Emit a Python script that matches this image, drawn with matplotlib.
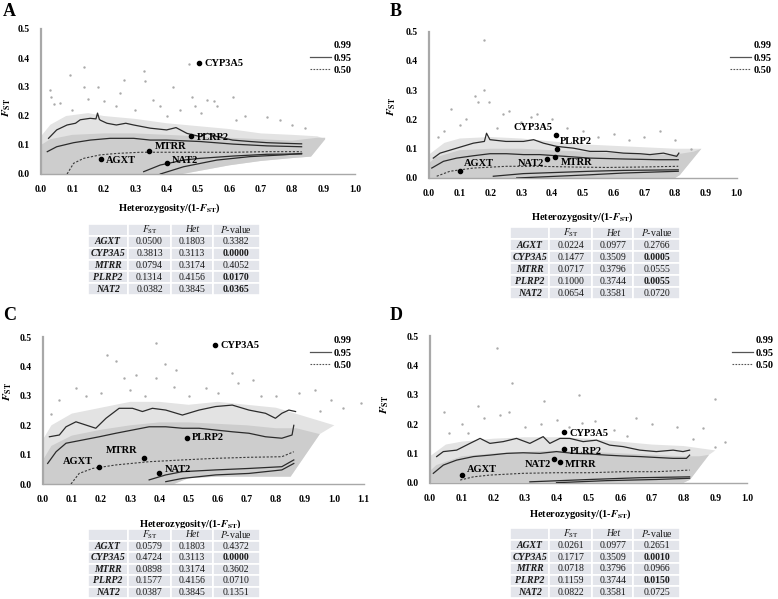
#!/usr/bin/env python3
"""FST vs heterozygosity outlier plots (panels A-D) with gene tables."""

import matplotlib

matplotlib.use("Agg")
import matplotlib.pyplot as plt
from matplotlib.lines import Line2D
import numpy as np

plt.rcParams["font.family"] = ["Liberation Serif", "DejaVu Serif"]
plt.rcParams["mathtext.fontset"] = "stix"

# ---- table values -------------------------------------------------------
GENES = ["AGXT", "CYP3A5", "MTRR", "PLRP2", "NAT2"]
HET_AC = [0.1803, 0.3113, 0.3174, 0.4156, 0.3845]
HET_BD = [0.0977, 0.3509, 0.3796, 0.3744, 0.3581]
FST_A = [0.0500, 0.3813, 0.0794, 0.1314, 0.0382]
P_A = [0.3382, 0.0000, 0.4052, 0.0170, 0.0365]
FST_B = [0.0224, 0.1477, 0.0717, 0.1000, 0.0654]
P_B = [0.2766, 0.0005, 0.0555, 0.0055, 0.0720]
FST_C = [0.0579, 0.4724, 0.0898, 0.1577, 0.0387]
P_C = [0.4372, 0.0000, 0.3602, 0.0710, 0.1351]
FST_D = [0.0261, 0.1717, 0.0718, 0.1159, 0.0822]
P_D = [0.2651, 0.0010, 0.0966, 0.0150, 0.0725]

# ---- panel A quantile curves ------------------------------------------
A_U99_X = [0.024, 0.05, 0.083, 0.11, 0.125, 0.157, 0.175, 0.18, 0.186, 0.19, 0.21, 0.24, 0.27, 0.295,
           0.348, 0.40, 0.43, 0.465, 0.507, 0.53, 0.56, 0.61, 0.666, 0.72, 0.77, 0.83]
A_U99_Y = [0.123, 0.152, 0.169, 0.175, 0.187, 0.192, 0.19, 0.21, 0.188, 0.185, 0.175, 0.169, 0.175, 0.169,
           0.158, 0.152, 0.16, 0.14, 0.129, 0.14, 0.129, 0.117, 0.112, 0.108, 0.106, 0.104]
A_U95_X = [0.02, 0.05, 0.104, 0.157, 0.22, 0.295, 0.348, 0.40, 0.507, 0.613, 0.72, 0.83]
A_U95_Y = [0.077, 0.094, 0.108, 0.117, 0.123, 0.123, 0.117, 0.117, 0.112, 0.103, 0.097, 0.094]
A_M50_X = [0.083, 0.104, 0.136, 0.189, 0.242, 0.316, 0.40, 0.507, 0.613, 0.72, 0.83]
A_M50_Y = [0.0, 0.037, 0.054, 0.066, 0.071, 0.075, 0.075, 0.075, 0.075, 0.077, 0.077]
A_L95_X = [0.327, 0.38, 0.454, 0.507, 0.613, 0.72, 0.83]
A_L95_Y = [0.008, 0.031, 0.048, 0.054, 0.062, 0.068, 0.069]
A_L99_X = [0.38, 0.454, 0.56, 0.666, 0.772, 0.83]
A_L99_Y = [0.0, 0.025, 0.048, 0.060, 0.066, 0.071]

# ---- panel B quantile curves ------------------------------------------
B_U99_X = [0.014, 0.036, 0.09, 0.144, 0.18, 0.187, 0.198, 0.25, 0.307, 0.34, 0.372, 0.415, 0.469,
           0.523, 0.577, 0.632, 0.686, 0.718, 0.762, 0.805, 0.812]
B_U99_Y = [0.068, 0.085, 0.102, 0.119, 0.125, 0.153, 0.131, 0.125, 0.125, 0.131, 0.119, 0.108, 0.102,
           0.091, 0.091, 0.085, 0.083, 0.08, 0.085, 0.074, 0.085]
B_U95_X = [0.009, 0.047, 0.09, 0.144, 0.198, 0.252, 0.307, 0.36, 0.415, 0.469, 0.523, 0.632, 0.74, 0.81]
B_U95_Y = [0.034, 0.057, 0.068, 0.076, 0.083, 0.083, 0.08, 0.08, 0.076, 0.072, 0.068, 0.065, 0.0625, 0.0625]
B_M50_X = [0.025, 0.068, 0.144, 0.252, 0.36, 0.469, 0.577, 0.686, 0.81]
B_M50_Y = [0.006, 0.023, 0.034, 0.04, 0.04, 0.0375, 0.036, 0.0375, 0.04]
B_L95_X = [0.209, 0.307, 0.415, 0.523, 0.632, 0.81]
B_L95_Y = [0.006, 0.015, 0.019, 0.023, 0.026, 0.028]
B_L99_X = [0.285, 0.415, 0.523, 0.632, 0.81]
B_L99_Y = [0.0, 0.006, 0.011, 0.017, 0.023]

# ---- panel C quantile curves ------------------------------------------
C_U99_X = [0.023, 0.057, 0.08, 0.114, 0.148, 0.182, 0.217, 0.262, 0.308, 0.342, 0.376, 0.422, 0.479,
           0.536, 0.593, 0.65, 0.707, 0.764, 0.798, 0.82, 0.844, 0.867]
C_U99_Y = [0.161, 0.167, 0.195, 0.212, 0.201, 0.19, 0.224, 0.258, 0.258, 0.247, 0.258, 0.252, 0.235,
           0.252, 0.264, 0.269, 0.252, 0.241, 0.224, 0.241, 0.252, 0.247]
C_U95_X = [0.017, 0.046, 0.08, 0.137, 0.194, 0.251, 0.308, 0.365, 0.422, 0.479, 0.536, 0.593, 0.65,
           0.707, 0.764, 0.82, 0.855, 0.861]
C_U95_Y = [0.07, 0.11, 0.139, 0.15, 0.161, 0.173, 0.184, 0.195, 0.195, 0.19, 0.19, 0.184, 0.178,
           0.173, 0.161, 0.156, 0.167, 0.2]
C_M50_X = [0.097, 0.125, 0.171, 0.251, 0.365, 0.479, 0.593, 0.707, 0.82, 0.861]
C_M50_Y = [0.0, 0.036, 0.053, 0.065, 0.076, 0.082, 0.0875, 0.091, 0.093, 0.11]
C_L95_X = [0.365, 0.422, 0.479, 0.593, 0.707, 0.82, 0.861]
C_L95_Y = [0.014, 0.031, 0.042, 0.048, 0.053, 0.059, 0.082]
C_L99_X = [0.422, 0.479, 0.593, 0.707, 0.82, 0.861]
C_L99_Y = [0.008, 0.019, 0.031, 0.036, 0.048, 0.07]

# ---- panel D quantile curves ------------------------------------------
D_U99_X = [0.021, 0.042, 0.084, 0.126, 0.158, 0.189, 0.231, 0.273, 0.315, 0.357, 0.378, 0.41, 0.441,
           0.483, 0.525, 0.567, 0.609, 0.662, 0.714, 0.767, 0.798, 0.819]
D_U99_Y = [0.089, 0.106, 0.111, 0.134, 0.151, 0.134, 0.14, 0.151, 0.134, 0.157, 0.134, 0.151, 0.151,
           0.14, 0.145, 0.128, 0.123, 0.111, 0.106, 0.111, 0.106, 0.111]
D_U95_X = [0.0105, 0.042, 0.084, 0.137, 0.189, 0.242, 0.294, 0.347, 0.399, 0.452, 0.504, 0.557, 0.609,
           0.662, 0.714, 0.767, 0.809, 0.819]
D_U95_Y = [0.032, 0.06, 0.077, 0.089, 0.094, 0.10, 0.102, 0.10, 0.106, 0.10, 0.098, 0.094, 0.091,
           0.089, 0.086, 0.083, 0.083, 0.094]
D_M50_X = [0.095, 0.137, 0.189, 0.294, 0.399, 0.504, 0.609, 0.714, 0.819]
D_M50_Y = [0.009, 0.02, 0.026, 0.032, 0.034, 0.034, 0.0375, 0.0375, 0.043]
D_L95_X = [0.315, 0.504, 0.662, 0.819]
D_L95_Y = [0.003, 0.011, 0.017, 0.020]
D_L99_X = [0.399, 0.557, 0.714, 0.819]
D_L99_Y = [0.0, 0.007, 0.011, 0.015]

# ---- SNP cloud outlines (dense core / sparse halo) ---------------------
A_CORE_TOP_X = [0.0, 0.03, 0.1, 0.2, 0.3, 0.4, 0.5, 0.6, 0.7, 0.8, 0.88, 0.905]
A_CORE_TOP_Y = [0.10, 0.12, 0.135, 0.14, 0.14, 0.135, 0.13, 0.125, 0.12, 0.115, 0.125, 0.125]
A_CORE_BOT_X = [0.905, 0.86, 0.8, 0.7, 0.6, 0.5, 0.45, 0.0]
A_CORE_BOT_Y = [0.12, 0.06, 0.055, 0.045, 0.03, 0.01, 0.0, 0.0]
A_HALO_TOP_X = [0.0, 0.03, 0.08, 0.15, 0.2, 0.3, 0.4, 0.5, 0.6, 0.7, 0.8, 0.88]
A_HALO_TOP_Y = [0.13, 0.17, 0.2, 0.21, 0.2, 0.19, 0.175, 0.165, 0.155, 0.14, 0.135, 0.13]

B_CORE_TOP_X = [0.0, 0.02, 0.1, 0.2, 0.3, 0.4, 0.5, 0.6, 0.7, 0.8, 0.86, 0.885]
B_CORE_TOP_Y = [0.05, 0.07, 0.095, 0.1, 0.1, 0.095, 0.09, 0.085, 0.08, 0.08, 0.09, 0.1]
B_CORE_BOT_X = [0.885, 0.815, 0.8, 0.0]
B_CORE_BOT_Y = [0.1, 0.01, 0.0, 0.0]
B_HALO_TOP_X = [0.0, 0.05, 0.1, 0.2, 0.3, 0.4, 0.5, 0.6, 0.7, 0.8, 0.88]
B_HALO_TOP_Y = [0.08, 0.12, 0.135, 0.14, 0.135, 0.125, 0.115, 0.11, 0.105, 0.1, 0.1]

C_CORE_TOP_X = [0.0, 0.03, 0.1, 0.2, 0.3, 0.4, 0.5, 0.6, 0.7, 0.8, 0.87, 0.95]
C_CORE_TOP_Y = [0.08, 0.13, 0.165, 0.185, 0.2, 0.21, 0.21, 0.205, 0.2, 0.19, 0.19, 0.17]
C_CORE_BOT_X = [0.95, 0.85, 0.6, 0.5, 0.45, 0.0]
C_CORE_BOT_Y = [0.17, 0.025, 0.025, 0.02, 0.0, 0.0]
C_HALO_TOP_X = [0.0, 0.03, 0.1, 0.2, 0.3, 0.4, 0.5, 0.6, 0.7, 0.8, 0.9, 1.0]
C_HALO_TOP_Y = [0.15, 0.2, 0.24, 0.26, 0.28, 0.28, 0.27, 0.28, 0.27, 0.26, 0.23, 0.2]

D_CORE_TOP_X = [0.0, 0.02, 0.1, 0.2, 0.3, 0.4, 0.5, 0.6, 0.7, 0.8, 0.85, 0.88]
D_CORE_TOP_Y = [0.04, 0.06, 0.09, 0.1, 0.105, 0.11, 0.105, 0.1, 0.095, 0.09, 0.09, 0.095]
D_CORE_BOT_X = [0.88, 0.82, 0.8, 0.0]
D_CORE_BOT_Y = [0.095, 0.01, 0.0, 0.0]
D_HALO_TOP_X = [0.0, 0.05, 0.1, 0.2, 0.3, 0.4, 0.5, 0.6, 0.7, 0.8, 0.9]
D_HALO_TOP_Y = [0.09, 0.13, 0.14, 0.15, 0.155, 0.155, 0.15, 0.14, 0.13, 0.125, 0.11]

# ---- scattered outlying SNPs ------------------------------------------
A_OUT_X = [0.03, 0.033, 0.04, 0.093, 0.136, 0.136, 0.18, 0.06, 0.24, 0.263, 0.327, 0.332, 0.358, 0.38,
           0.42, 0.443, 0.48, 0.49, 0.51, 0.528, 0.55, 0.56, 0.62, 0.72, 0.76, 0.80, 0.61, 0.2, 0.3,
           0.1, 0.47, 0.25, 0.15, 0.4, 0.65, 0.84]
A_OUT_Y = [0.29, 0.265, 0.24, 0.34, 0.37, 0.30, 0.30, 0.245, 0.233, 0.325, 0.354, 0.32, 0.256, 0.233,
           0.30, 0.221, 0.267, 0.233, 0.21, 0.256, 0.25, 0.233, 0.187, 0.198, 0.187, 0.17, 0.267, 0.25,
           0.22, 0.22, 0.38, 0.28, 0.26, 0.2, 0.2, 0.16]
B_OUT_X = [0.18, 0.178, 0.15, 0.16, 0.195, 0.07, 0.12, 0.24, 0.26, 0.35, 0.33, 0.30, 0.40, 0.10, 0.05,
           0.6, 0.75, 0.65, 0.85, 0.22, 0.45, 0.5, 0.7, 0.8, 0.03, 0.37, 0.55]
B_OUT_Y = [0.47, 0.30, 0.28, 0.26, 0.26, 0.235, 0.20, 0.22, 0.23, 0.22, 0.21, 0.19, 0.20, 0.18, 0.16,
           0.15, 0.16, 0.13, 0.10, 0.17, 0.17, 0.16, 0.14, 0.13, 0.14, 0.18, 0.14]
C_OUT_X = [0.387, 0.25, 0.22, 0.456, 0.32, 0.387, 0.65, 0.56, 0.67, 0.72, 0.878, 0.935, 0.99, 1.09,
           1.03, 0.057, 0.114, 0.2, 0.3, 0.45, 0.5, 0.6, 0.8, 0.95, 0.03, 0.15, 0.35, 0.75, 0.42, 0.28]
C_OUT_Y = [0.48, 0.42, 0.44, 0.39, 0.37, 0.36, 0.38, 0.326, 0.343, 0.355, 0.31, 0.32, 0.286, 0.275,
           0.26, 0.286, 0.326, 0.31, 0.32, 0.33, 0.3, 0.31, 0.3, 0.25, 0.24, 0.3, 0.3, 0.3, 0.41, 0.36]
D_OUT_X = [0.21, 0.26, 0.15, 0.36, 0.47, 0.9, 0.045, 0.25, 0.22, 0.4, 0.52, 0.48, 0.65, 0.7, 0.86,
           0.93, 0.1, 0.17, 0.3, 0.78, 0.58, 0.35, 0.06, 0.12, 0.44, 0.62, 0.83, 0.9]
D_OUT_Y = [0.46, 0.34, 0.26, 0.28, 0.30, 0.285, 0.24, 0.24, 0.23, 0.215, 0.21, 0.205, 0.22, 0.2, 0.185,
           0.14, 0.2, 0.22, 0.19, 0.19, 0.18, 0.2, 0.17, 0.17, 0.19, 0.16, 0.15, 0.12]

# label offsets (points) and alignment per gene, per panel
A_LBL = [(4, -1, "left"), (4, 0, "left"), (4, 3, "left"), (4, -1, "left"), (4, 2, "left")]
B_LBL = [(3, 6, "left"), (-2, 5, "right"), (4, -4, "left"), (2, 5, "left"), (-2, -3, "right")]
C_LBL = [(-4, 4, "right"), (4, 0, "left"), (-5, 5, "right"), (4, 0, "left"), (4, 2, "left")]
D_LBL = [(4, 4, "left"), (4, -1, "left"), (4, -2, "left"), (4, -2, "left"), (-2, -4, "right")]

FIG_W, FIG_H = 778, 599
LINE_C = "#2b2b2b"
CORE_C = "#cdcdcd"
HALO_C = "#e3e3e3"
DOT_C = "#aaaaaa"
COL_W = [0.23, 0.255, 0.24, 0.275]


def fx(px):
    return px / FIG_W


def fy(py):
    return 1 - py / FIG_H


def draw_panel(fig, rect, letter, letter_xy, xmax, curves, core, halo, out, fst, het, lbl,
               leg_xy, ylab_xy, xlab_xy):
    ax = fig.add_axes(rect)
    ctx, cty, cbx, cby = core
    hx, hy = halo
    # sparse halo then dense core
    ax.fill(list(hx) + list(cbx), list(hy) + list(cby), color=HALO_C, lw=0, zorder=1)
    ax.fill(list(ctx) + list(cbx), list(cty) + list(cby), color=CORE_C, lw=0, zorder=2)
    ax.scatter(out[0], out[1], s=3, color=DOT_C, lw=0, zorder=2)
    u99, u95, m50, l95, l99 = curves
    ax.plot(*u99, color=LINE_C, lw=0.9, zorder=3)
    ax.plot(*u95, color=LINE_C, lw=0.9, zorder=3)
    ax.plot(*m50, color="#3a3a3a", lw=0.8, ls=(0, (2, 1.5)), zorder=3)
    ax.plot(*l95, color=LINE_C, lw=0.9, zorder=3)
    ax.plot(*l99, color=LINE_C, lw=0.9, zorder=3)

    gx = np.array(het) / (1 - np.array(fst))
    ax.scatter(gx, fst, s=9, color="black", zorder=4)
    for g, x, y, (dx, dy, ha) in zip(GENES, gx, fst, lbl):
        ax.annotate(g, (x, y), xytext=(dx, dy), textcoords="offset points", ha=ha, va="center",
                    fontsize=7.5, fontweight="bold", zorder=5)

    ax.set_xlim(0, xmax)
    ax.set_ylim(0, 0.5)
    ax.set_xticks(np.round(np.arange(0, xmax + 0.001, 0.1), 1))
    ax.set_yticks([0.0, 0.1, 0.2, 0.3, 0.4, 0.5])
    ax.xaxis.set_major_formatter(matplotlib.ticker.FormatStrFormatter("%.1f"))
    ax.yaxis.set_major_formatter(matplotlib.ticker.FormatStrFormatter("%.1f"))
    ax.tick_params(length=0, labelsize=7, pad=8)
    for t in ax.get_xticklabels() + ax.get_yticklabels():
        t.set_fontweight("bold")
    for s in ("top", "right"):
        ax.spines[s].set_visible(False)
    ax.spines["left"].set_color("#a8a8a8")
    ax.spines["left"].set_linewidth(1.6)
    ax.spines["bottom"].set_color("#a8a8a8")
    ax.spines["bottom"].set_linewidth(1.0)
    ax.set_xlabel(r"Heterozygosity/(1-$\mathbfit{F}_{\mathbf{ST}}$)", fontsize=7.5, fontweight="bold")
    ax.xaxis.set_label_coords(*xlab_xy)
    ax.set_ylabel(r"$\mathbfit{F}_{\mathbf{ST}}$", fontsize=8)
    ax.yaxis.set_label_coords(*ylab_xy)

    handles = [Line2D([], [], color="none"),
               Line2D([], [], color="#555555", lw=0.9),
               Line2D([], [], color="#555555", lw=0.8, ls=(0, (1.5, 1.2)))]
    fig.legend(handles, ["0.99", "0.95", "0.50"], loc="upper left", bbox_to_anchor=leg_xy,
               bbox_transform=fig.transFigure, frameon=False, borderpad=0, borderaxespad=0,
               handlelength=2.0, handletextpad=0.3, labelspacing=0.28,
               prop={"weight": "bold", "size": 7.5})
    fig.text(letter_xy[0], letter_xy[1], letter, fontsize=13, fontweight="bold", va="center")
    return ax


def draw_table(fig, rect, fst, het, pval):
    tax = fig.add_axes(rect)
    tax.axis("off")
    rows = [["", r"$\mathit{F}_{\mathrm{ST}}$", "Het", r"$\mathit{P}$-value"]]
    for g, f, h, p in zip(GENES, fst, het, pval):
        rows.append([g, f"{f:.4f}", f"{h:.4f}", f"{p:.4f}"])
    tb = tax.table(cellText=rows, bbox=[0, 0, 1, 1], colWidths=COL_W, cellLoc="center")
    tb.auto_set_font_size(False)
    for (r, c), cell in tb.get_celld().items():
        cell.set_facecolor("#e3e5eb")
        cell.set_edgecolor("white")
        cell.set_linewidth(1.2)
        t = cell.get_text()
        t.set_fontsize(7)
        t.set_color("#1a1a1a")
        if r == 0 and c == 2:
            t.set_fontstyle("italic")
        if c == 0 and r > 0:
            t.set_fontweight("bold")
            t.set_fontstyle("italic")
            cell._loc = "right"
        if c == 3 and r > 0 and pval[r - 1] < 0.05:
            t.set_fontweight("bold")


def main():
    fig = plt.figure(figsize=(FIG_W / 100, FIG_H / 100), dpi=100)

    draw_panel(fig, [fx(41), fy(174), fx(314), 145 / FIG_H], "A", (fx(3), fy(12)), 1.0,
               [(A_U99_X, A_U99_Y), (A_U95_X, A_U95_Y), (A_M50_X, A_M50_Y),
                (A_L95_X, A_L95_Y), (A_L99_X, A_L99_Y)],
               (A_CORE_TOP_X, A_CORE_TOP_Y, A_CORE_BOT_X, A_CORE_BOT_Y),
               (A_HALO_TOP_X, A_HALO_TOP_Y), (A_OUT_X, A_OUT_Y), FST_A, HET_AC, A_LBL,
               (fx(310), fy(41)), (-0.09, 0.46), (0.41, -0.19))
    draw_panel(fig, [fx(429), fy(178), fx(307.7), 146.3 / FIG_H], "B", (fx(390), fy(11)), 1.0,
               [(B_U99_X, B_U99_Y), (B_U95_X, B_U95_Y), (B_M50_X, B_M50_Y),
                (B_L95_X, B_L95_Y), (B_L99_X, B_L99_Y)],
               (B_CORE_TOP_X, B_CORE_TOP_Y, B_CORE_BOT_X, B_CORE_BOT_Y),
               (B_HALO_TOP_X, B_HALO_TOP_Y), (B_OUT_X, B_OUT_Y), FST_B, HET_BD, B_LBL,
               (fx(730), fy(41)), (-0.10, 0.485), (0.497, -0.22))
    draw_panel(fig, [fx(42.7), fy(484), fx(320.8), 146.7 / FIG_H], "C", (fx(3), fy(315)), 1.1,
               [(C_U99_X, C_U99_Y), (C_U95_X, C_U95_Y), (C_M50_X, C_M50_Y),
                (C_L95_X, C_L95_Y), (C_L99_X, C_L99_Y)],
               (C_CORE_TOP_X, C_CORE_TOP_Y, C_CORE_BOT_X, C_CORE_BOT_Y),
               (C_HALO_TOP_X, C_HALO_TOP_Y), (C_OUT_X, C_OUT_Y), FST_C, HET_AC, C_LBL,
               (fx(310), fy(336)), (-0.089, 0.627), (0.46, -0.225))
    draw_panel(fig, [fx(430), fy(482.7), fx(317), 146.7 / FIG_H], "D", (fx(390), fy(315)), 1.0,
               [(D_U99_X, D_U99_Y), (D_U95_X, D_U95_Y), (D_M50_X, D_M50_Y),
                (D_L95_X, D_L95_Y), (D_L99_X, D_L99_Y)],
               (D_CORE_TOP_X, D_CORE_TOP_Y, D_CORE_BOT_X, D_CORE_BOT_Y),
               (D_HALO_TOP_X, D_HALO_TOP_Y), (D_OUT_X, D_OUT_Y), FST_D, HET_BD, D_LBL,
               (fx(732), fy(336)), (-0.123, 0.53), (0.473, -0.166))

    draw_table(fig, [fx(88), fy(295), fx(172), 71 / FIG_H], FST_A, HET_AC, P_A)
    draw_table(fig, [fx(510), fy(299), fx(170), 72 / FIG_H], FST_B, HET_BD, P_B)
    draw_table(fig, [fx(88), fy(598), fx(172), 69 / FIG_H], FST_C, HET_AC, P_C)
    draw_table(fig, [fx(510), fy(598), fx(170), 70 / FIG_H], FST_D, HET_BD, P_D)

    fig.savefig("out.png", dpi=100)
    plt.close(fig)


if __name__ == "__main__":
    main()
